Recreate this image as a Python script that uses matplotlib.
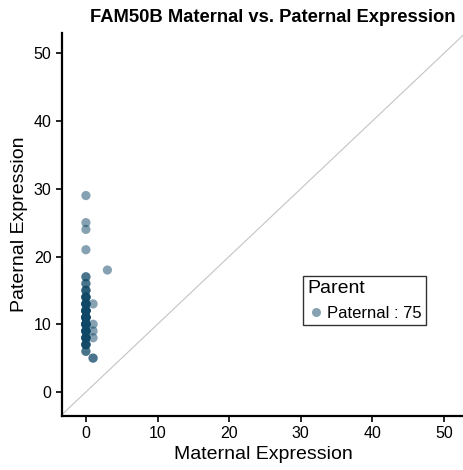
import numpy as np
import matplotlib.pyplot as plt
from matplotlib.lines import Line2D

plt.rcParams['font.family'] = ['Liberation Sans', 'DejaVu Sans']

# expression values per sample (maternal, paternal) and how many samples share each pair
maternal = [0, 0, 0, 0, 0, 0, 0, 0, 0, 0, 0, 0, 0, 0, 0, 0, 1, 1, 1, 1, 1, 3]
paternal = [29, 25, 24, 21, 17, 16, 15, 14, 13, 12, 11, 10, 9, 8, 7, 6, 13, 10, 9, 8, 5, 18]
counts = [1, 1, 1, 1, 2, 2, 3, 5, 6, 8, 9, 9, 7, 6, 5, 2, 1, 1, 1, 1, 2, 1]

mx = np.repeat(maternal, counts)
py = np.repeat(paternal, counts)
n_points = len(mx)

color = '#0f4766'

fig = plt.figure(figsize=(4.64, 4.70), dpi=100)
ax = fig.add_axes([62 / 464, (470 - 416) / 470, (464 - 62) / 464, (416 - 33) / 470])

ax.plot([-10, 60], [-10, 60], color='#c4c4c4', lw=0.8, zorder=1)
ax.scatter(mx, py, s=44, color=color, alpha=0.5, edgecolors='none', zorder=2)

ax.set_xlim(-3.34, 52.8)
ax.set_ylim(-3.55, 53.0)
ax.set_xticks([0, 10, 20, 30, 40, 50])
ax.set_yticks([0, 10, 20, 30, 40, 50])

for side in ['top', 'right']:
    ax.spines[side].set_visible(False)
for side in ['left', 'bottom']:
    ax.spines[side].set_linewidth(1.6)
ax.tick_params(direction='out', length=4, width=1.2, labelsize=11.5, colors='black')

ax.set_xlabel('Maternal Expression', fontsize=14, labelpad=3)
ax.set_ylabel('Paternal Expression', fontsize=14, labelpad=4)
ax.set_title('FAM50B Maternal vs. Paternal Expression', fontsize=13.2, fontweight='bold',
             pad=8, x=0.525)

handle = Line2D([], [], marker='o', linestyle='none', markersize=6.5,
                markerfacecolor=color, markeredgecolor='none', alpha=0.5)
leg = ax.legend([handle], [f'Paternal : {n_points}'], title='Parent',
                loc='upper left', bbox_to_anchor=(0.6, 0.365), fontsize=12,
                title_fontsize=14, frameon=True, fancybox=False,
                handletextpad=0.2, borderpad=0.25, handlelength=1.0,
                borderaxespad=0)
leg._legend_box.align = 'left'
leg.get_frame().set_edgecolor('black')
leg.get_frame().set_linewidth(1.0)

fig.savefig('out.png', dpi=100)
